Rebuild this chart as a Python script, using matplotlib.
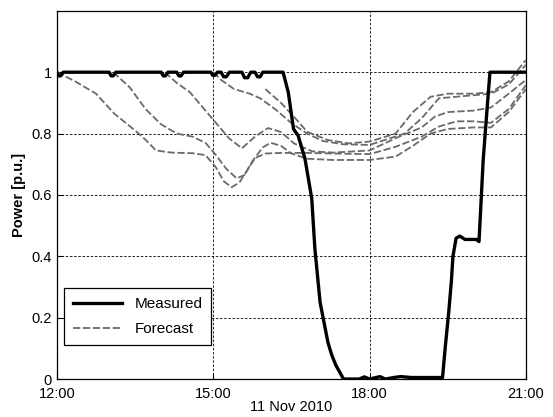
import matplotlib
matplotlib.use('Agg')
from matplotlib import pyplot as plt

plt.rcParams['font.family'] = ['Liberation Sans', 'DejaVu Sans']

# hours after 12:00 on 11 Nov 2010
measured_t = [0.0, 0.03, 0.07, 0.12, 1.0, 1.04, 1.08, 1.13, 2.0, 2.04, 2.08, 2.13, 2.3, 2.34, 2.38, 2.43,
              2.95, 2.99, 3.03, 3.08, 3.15, 3.2, 3.25, 3.31, 3.55, 3.6, 3.66, 3.72, 3.8, 3.85, 3.9, 3.95,
              4.05, 4.3, 4.34, 4.44, 4.54, 4.63, 4.76, 4.89, 4.95, 5.05, 5.2, 5.27, 5.35, 5.5, 5.8, 5.9,
              6.0, 6.2, 6.3, 6.5, 6.6, 6.8, 7.0, 7.2, 7.4, 7.45, 7.52, 7.57, 7.6, 7.66, 7.73, 7.83, 8.05,
              8.1, 8.14, 8.18, 8.25, 8.31, 8.8, 9.0]
measured_v = [1.0, 0.988, 0.988, 1.0, 1.0, 0.988, 0.988, 1.0, 1.0, 0.988, 0.988, 1.0, 1.0, 0.988, 0.988, 1.0,
              1.0, 0.99, 0.99, 1.0, 1.0, 0.985, 0.985, 1.0, 1.0, 0.982, 0.982, 1.0, 1.0, 0.985, 0.985, 1.0,
              1.0, 1.0, 1.0, 0.934, 0.815, 0.793, 0.718, 0.588, 0.425, 0.25, 0.12, 0.08, 0.046, 0.0, 0.0, 0.007,
              0.0, 0.008, 0.0, 0.006, 0.008, 0.005, 0.005, 0.005, 0.005, 0.1, 0.22, 0.32, 0.4, 0.459, 0.466, 0.455, 0.455,
              0.448, 0.58, 0.714, 0.87, 1.0, 1.0, 1.0]

f1_t = [0.0, 0.35, 0.75, 1.1, 1.5, 1.7, 1.9, 2.2, 2.6, 2.85, 3.05, 3.2, 3.35, 3.5, 3.65, 3.8, 4.0,
        4.3, 4.8, 5.3, 6.0, 6.5, 7.0, 7.33, 7.67, 8.0, 8.33, 8.67, 9.0]
f1_v = [1.0, 0.97, 0.93, 0.865, 0.81, 0.78, 0.745, 0.738, 0.736, 0.73, 0.69, 0.645, 0.625, 0.64, 0.68,
        0.72, 0.735, 0.737, 0.737, 0.735, 0.733, 0.757, 0.79, 0.823, 0.84, 0.84, 0.835, 0.88, 0.958]

f2_t = [1.08, 1.4, 1.7, 2.0, 2.3, 2.6, 2.85, 3.05, 3.25, 3.45, 3.6, 3.75, 3.95, 4.1, 4.3, 4.5, 4.8,
        5.3, 6.0, 6.5, 6.83, 7.17, 7.5, 8.0, 8.33, 8.67, 9.0]
f2_v = [1.0, 0.95, 0.88, 0.83, 0.80, 0.79, 0.77, 0.73, 0.685, 0.654, 0.665, 0.71, 0.755, 0.77, 0.76,
        0.735, 0.718, 0.714, 0.714, 0.725, 0.76, 0.80, 0.815, 0.82, 0.82, 0.87, 0.945]

f3_t = [2.07, 2.3, 2.55, 3.0, 3.3, 3.55, 3.8, 4.05, 4.3, 4.55, 4.9, 5.3, 6.0, 6.5, 7.0, 7.25, 7.5,
        8.0, 8.33, 8.67, 9.0]
f3_v = [1.0, 0.965, 0.935, 0.845, 0.785, 0.752, 0.79, 0.818, 0.805, 0.768, 0.742, 0.738, 0.745, 0.785,
        0.82, 0.855, 0.87, 0.875, 0.885, 0.93, 0.975]

f4_t = [3.0, 3.15, 3.4, 3.7, 3.9, 4.2, 4.5, 4.8, 5.1, 5.5, 6.0, 6.67, 7.0, 7.33, 8.0, 8.33, 8.67, 9.0]
f4_v = [1.0, 0.975, 0.945, 0.93, 0.915, 0.878, 0.834, 0.80, 0.776, 0.765, 0.763, 0.80, 0.85, 0.915,
        0.925, 0.93, 0.96, 1.024]

f5_t = [4.0, 4.3, 4.6, 4.8, 5.2, 5.6, 6.0, 6.5, 6.83, 7.17, 7.5, 8.0, 8.33, 8.67, 9.0]
f5_v = [0.945, 0.9, 0.845, 0.806, 0.779, 0.768, 0.774, 0.80, 0.87, 0.92, 0.93, 0.93, 0.935, 0.97, 1.04]

xtick_pos = [0, 3, 6, 9]
xtick_labels = ['12:00', '15:00', '18:00', '21:00']
ytick_pos = [0, 0.2, 0.4, 0.6, 0.8, 1.0]
ytick_labels = ['0', '0.2', '0.4', '0.6', '0.8', '1']

fig = plt.figure(figsize=(5.53, 4.17), dpi=100)
ax = fig.add_axes([0.103, 0.091, 0.848, 0.883])

fc_color = '#6a6a6a'
forecasts = [(f1_t, f1_v), (f2_t, f2_v), (f3_t, f3_v), (f4_t, f4_v), (f5_t, f5_v)]
for i, (t, v) in enumerate(forecasts):
    ax.plot(t, v, color=fc_color, lw=1.3, ls=(0, (4, 1.5)), solid_joinstyle='round',
            label='Forecast' if i == 0 else None, zorder=3)

ax.plot(measured_t, measured_v, color='black', lw=2.4, label='Measured', zorder=4,
        solid_joinstyle='round')

ax.set_xlim(0, 9)
ax.set_ylim(0, 1.2)
ax.set_xticks(xtick_pos)
ax.set_xticklabels(xtick_labels, fontsize=10.5)
ax.set_yticks(ytick_pos)
ax.set_yticklabels(ytick_labels, fontsize=10.5)
ax.tick_params(direction='in', length=4, width=0.8)
ax.tick_params(axis='x', pad=6)
ax.grid(True, color='black', ls=(0, (3, 2)), lw=0.6)
for s in ax.spines.values():
    s.set_linewidth(0.9)

ax.set_xlabel('11 Nov 2010', fontsize=10.5, labelpad=-1)
ax.set_ylabel('Power [p.u.]', fontsize=10.5, fontweight='bold')

handles, labels = ax.get_legend_handles_labels()
leg = ax.legend(handles[::-1], labels[::-1], loc='lower left', bbox_to_anchor=(0.015, 0.092),
                borderaxespad=0, fontsize=11, frameon=True, fancybox=False, edgecolor='black',
                framealpha=1, handlelength=3.2, borderpad=0.6, labelspacing=0.7)
leg.get_frame().set_linewidth(0.9)

fig.savefig('out.png', dpi=100)
